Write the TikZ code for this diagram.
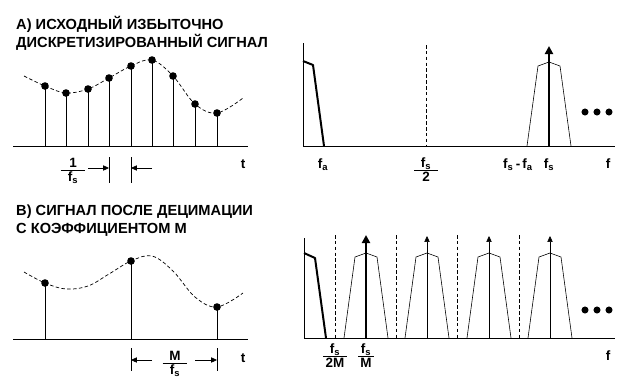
\documentclass[tikz,border=0pt]{standalone}
\usepackage{fontspec}
\setmainfont{Liberation Sans}
\usetikzlibrary{arrows.meta}
\newcommand{\fsub}[2]{#1\textsubscript{#2}}
\newcommand{\fracbox}[3][20pt]{\begin{tabular}{@{}c@{}}\makebox[#1]{#2}\\[-2pt]\hline\rule{0pt}{10pt}#3\end{tabular}}

\begin{document}
\begin{tikzpicture}[x=0.03cm,y=-0.03cm,
    axis/.style={line width=0.8pt},
    stem/.style={line width=0.7pt},
    sig/.style={line width=0.6pt,dash pattern=on 3pt off 2pt},
    mark line/.style={line width=0.5pt,dash pattern=on 3pt off 2pt},
    band/.style={line width=1.7pt,line join=round},
    image/.style={line width=0.5pt},
    dot/.style={circle,fill,inner sep=0pt,minimum size=6.5pt},
    lbl/.style={font=\fontsize{11.5}{12}\selectfont\bfseries,inner sep=0pt},
    title/.style={font=\fontsize{12.5}{15}\selectfont\bfseries,align=left,
                  anchor=base west,inner sep=0pt},
    dim/.style={-{Triangle[length=5pt,width=4.5pt]},line width=0.6pt},
    tone/.style={-{Triangle[length=7pt,width=7pt]},line width=1.8pt},
    alias/.style={-{Triangle[length=5pt,width=4.5pt]},line width=0.5pt}]

  \useasboundingbox (0,0) rectangle (623,387);

  % ---- A: oversampled signal
  \node[title] (titleA) at (16,47) {А) ИСХОДНЫЙ ИЗБЫТОЧНО\\ДИСКРЕТИЗИРОВАННЫЙ СИГНАЛ};
  \coordinate (a0) at (13,146);
  \coordinate (a1) at (248,146);
  \draw[axis] (a0) -- (a1);
  \draw[sig] plot[smooth,tension=0.6] coordinates {(24,76) (45,86) (66,93) (88,89)
      (109,78) (131,66) (152,60) (173,76) (195,104) (217,113) (243,98)};
  \foreach \x/\y [count=\i] in {45/86,66/93,88/89,109/78,131/66,152/60,173/76,195/104,217/113}{
    \node[dot] (sa\i) at (\x,\y) {};
    \draw[stem] (sa\i.center) -- (sa\i.center |- a0);
  }
  \node[lbl,anchor=base] (tA) at (243,168) {t};
  % sample period
  \coordinate (pa1) at (109,157);
  \coordinate (pa2) at (131,157);
  \draw[stem] (pa1) -- ++(0,26);
  \draw[stem] (pa2) -- ++(0,26);
  \draw[dim] (88,168) -- (109,168);
  \draw[dim] (152,168) -- (131,168);
  \node[lbl] (perA) at (73,172) {\fracbox[21pt]{1}{\fsub{f}{s}}};

  % ---- A: spectrum
  \coordinate (o1) at (303,146);
  \draw[axis] (303,43) -- (o1) -- (615,146);
  \draw[band] (303,61) -- (313,65) -- (324,146);
  \draw[mark line] (426,45) -- (426,146);
  \draw[image] (527,146) -- (538,66) -- (549,62) -- (560,66) -- (571,146);
  \draw[tone] (549,146) -- (549,46);
  \foreach \x [count=\i] in {585,597,609}
    \node[dot,minimum size=6pt] (ea\i) at (\x,112) {};
  \node[lbl,anchor=base] (fa) at (323,168) {\fsub{f}{a}};
  \node[lbl] (fhalf) at (426,172) {\fracbox{\fsub{f}{s}}{2}};
  \node[lbl,anchor=base] (fsfa) at (518,168) {\fsub{f}{s}\,-\,\fsub{f}{a}};
  \node[lbl,anchor=base] (fsA) at (549,168) {\fsub{f}{s}};
  \node[lbl,anchor=base] (fA) at (608,168) {f};

  % ---- B: decimated signal
  \node[title] (titleB) at (16,233) {В) СИГНАЛ ПОСЛЕ ДЕЦИМАЦИИ\\С КОЭФФИЦИЕНТОМ М};
  \coordinate (b0) at (13,339);
  \coordinate (b1) at (248,339);
  \draw[axis] (b0) -- (b1);
  \draw[sig] plot[smooth,tension=0.6] coordinates {(24,272) (45,283) (66,289) (88,286)
      (109,274) (131,261) (152,256) (173,271) (195,297) (217,307) (243,293)};
  \foreach \x/\y [count=\i] in {45/283,131/261,217/307}{
    \node[dot] (sb\i) at (\x,\y) {};
    \draw[stem] (sb\i.center) -- (sb\i.center |- b0);
  }
  \node[lbl,anchor=base] (tB) at (243,362) {t};
  % new sample period
  \coordinate (pb1) at (131,348);
  \coordinate (pb2) at (217,348);
  \draw[stem] (pb1) -- ++(0,23);
  \draw[stem] (pb2) -- ++(0,23);
  \draw[dim] (152,360) -- (131,360);
  \draw[dim] (195,360) -- (217,360);
  \node[lbl] (perB) at (175,365) {\fracbox[21pt]{M}{\fsub{f}{s}}};

  % ---- B: spectrum after decimation
  \coordinate (o2) at (304,338);
  \draw[axis] (304,238) -- (o2) -- (615,338);
  \draw[band] (304,253) -- (315,258) -- (326,338);
  \foreach \x in {335,396,457,519}
    \draw[mark line] (\x,235) -- (\x,338);
  \foreach \c [count=\i] in {366,427,489,550}{
    \draw[image] (\c-22,338) -- (\c-11,257) -- (\c,253) -- (\c+11,257) -- (\c+22,338);
    \ifnum\i=1
      \draw[tone] (\c,338) -- (\c,235);
    \else
      \draw[alias] (\c,338) -- (\c,236);
    \fi
  }
  \foreach \x [count=\i] in {585,597,609}
    \node[dot,minimum size=6pt] (eb\i) at (\x,310) {};
  \node[lbl] (fhalfM) at (335,358) {\fracbox{\fsub{f}{s}}{2M}};
  \node[lbl] (fM) at (366,358) {\fracbox[13pt]{\fsub{f}{s}}{M}};
  \node[lbl,anchor=base] (fB) at (608,360) {f};
\end{tikzpicture}
\end{document}
